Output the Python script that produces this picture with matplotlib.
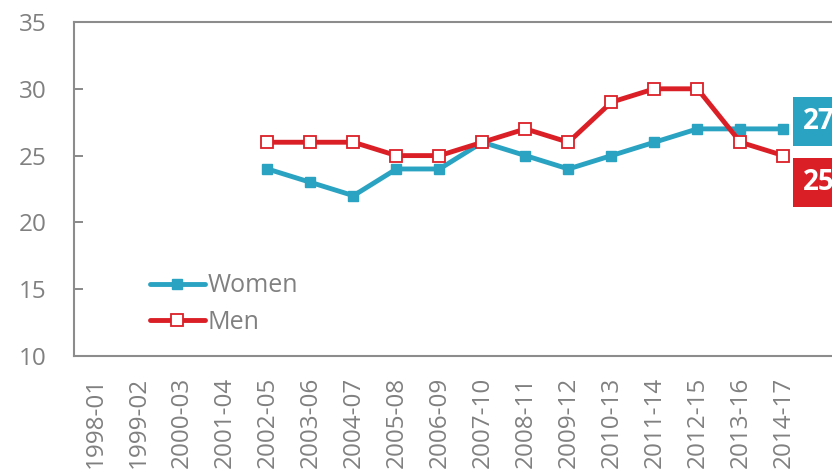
import matplotlib
matplotlib.use('Agg')
import matplotlib.pyplot as plt

# categories and values
years = ['1998-01', '1999-02', '2000-03', '2001-04', '2002-05', '2003-06',
         '2004-07', '2005-08', '2006-09', '2007-10', '2008-11', '2009-12',
         '2010-13', '2011-14', '2012-15', '2013-16', '2014-17']
women = [None, None, None, None, 24, 23, 22, 24, 24, 26, 25, 24, 25, 26, 27, 27, 27]
men = [None, None, None, None, 26, 26, 26, 25, 25, 26, 27, 26, 29, 30, 30, 26, 25]
yticks = [10, 15, 20, 25, 30, 35]

teal = '#2aa3c2'
red = '#db1f27'
grey = '#808080'

plt.rcParams['font.family'] = ['Open Sans', 'DejaVu Sans']

fig = plt.figure(figsize=(8.32, 4.74), dpi=100)
ax = fig.add_axes([74 / 832, 118 / 474, 758 / 832, 334 / 474])

# only plot the years that have values
xw = [i for i, v in enumerate(women) if v is not None]
yw = [v for v in women if v is not None]
xm = [i for i, v in enumerate(men) if v is not None]
ym = [v for v in men if v is not None]

ax.plot(xw, yw, color=teal, lw=3.5, marker='s', ms=7, mfc=teal, mec=teal,
        label='Women', solid_capstyle='round', zorder=3)
ax.plot(xm, ym, color=red, lw=3.5, marker='s', ms=8.5, mfc='white', mec=red,
        mew=1.3, label='Men', solid_capstyle='round', zorder=4)

# end value boxes
ax.text(16.45, 27.55, str(women[-1]), color='white', fontsize=20, fontweight='bold',
        va='center', ha='left', clip_on=False,
        bbox=dict(facecolor=teal, edgecolor='none', boxstyle='square,pad=0.35'))
ax.text(16.45, 23.0, str(men[-1]), color='white', fontsize=20, fontweight='bold',
        va='center', ha='left', clip_on=False,
        bbox=dict(facecolor=red, edgecolor='none', boxstyle='square,pad=0.35'))

ax.set_xlim(-0.5, 17.13)
ax.set_ylim(10, 35)
ax.set_yticks(yticks)
ax.set_xticks(range(len(years)))
ax.set_xticklabels(years, rotation=90, va='top', ha='center')

ax.tick_params(axis='y', direction='in', length=6.5, width=1.3, color=grey,
               labelsize=17.5, labelcolor=grey, pad=20)
ax.tick_params(axis='x', length=0, labelsize=17.5, labelcolor=grey, pad=15)

for s in ['left', 'top', 'bottom']:
    ax.spines[s].set_color('#8c8c8c')
    ax.spines[s].set_linewidth(1.5)
ax.spines['right'].set_visible(False)

leg = ax.legend(loc='center left', bbox_to_anchor=(0.1, 0.156), frameon=False,
                fontsize=18, handlelength=2.2, handletextpad=0.1,
                labelspacing=0.45, borderpad=0, borderaxespad=0)
for t in leg.get_texts():
    t.set_color(grey)

fig.savefig('out.png', dpi=100)
